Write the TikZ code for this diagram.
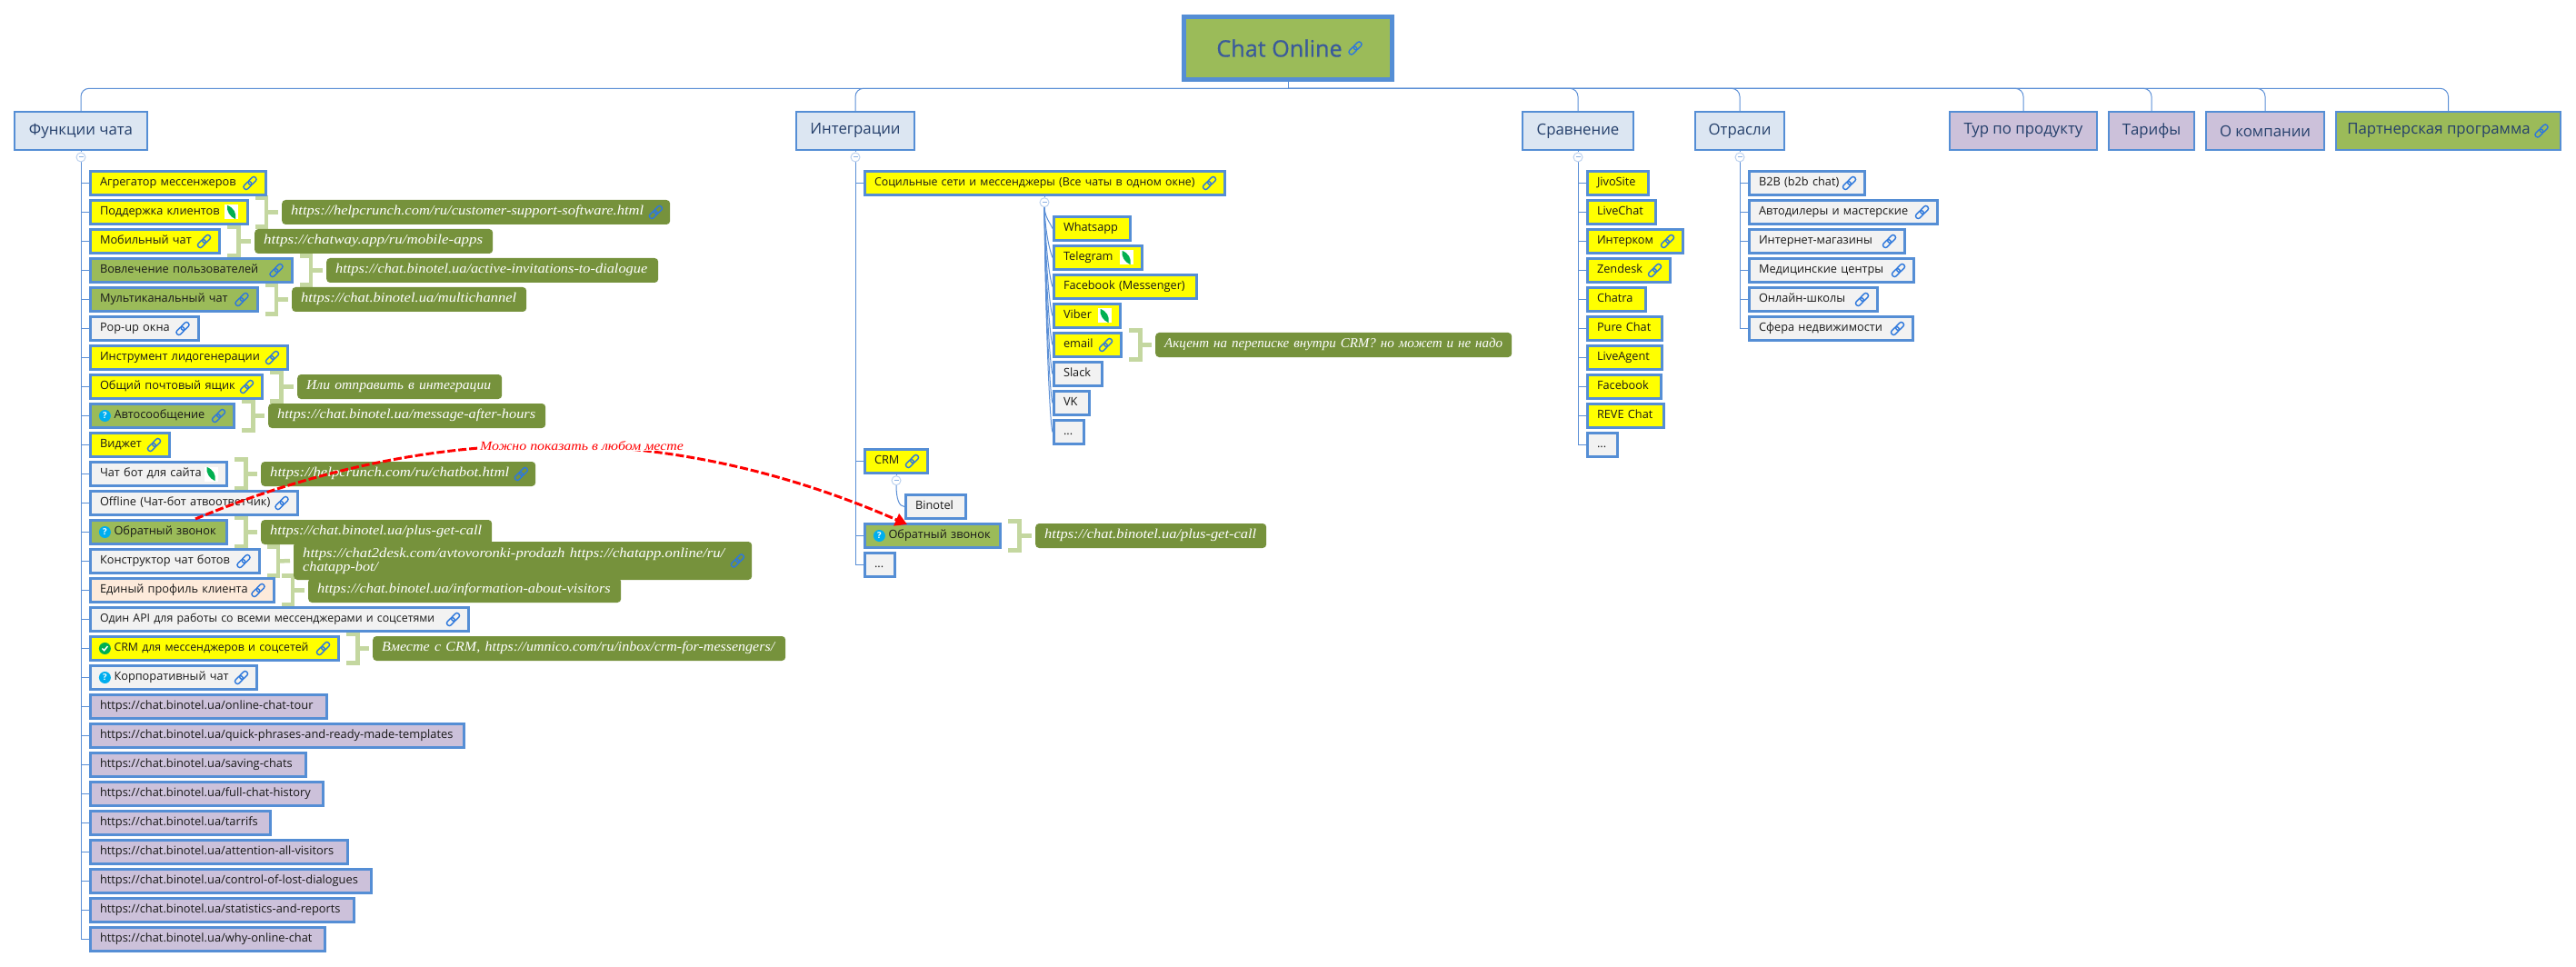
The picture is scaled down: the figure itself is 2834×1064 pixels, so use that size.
\documentclass[tikz,border=0pt]{standalone}
\usepackage{graphicx}
\usepackage{fontspec}
\setmainfont{Open Sans}
\newfontfamily\notefam{Liberation Serif}
\newfontfamily\rootfam[FakeBold=0.5]{Open Sans}
\usetikzlibrary{arrows.meta}
\pgfdeclarelayer{under}
\pgfsetlayers{under,main}
\definecolor{edge}{HTML}{558ED5}
\definecolor{conncol}{HTML}{5B8FD6}
\definecolor{yel}{HTML}{FFFF00}
\definecolor{grn}{HTML}{9BBB59}
\definecolor{olive}{HTML}{76923C}
\definecolor{headb}{HTML}{DCE6F2}
\definecolor{purp}{HTML}{CCC1DA}
\definecolor{grey}{HTML}{F2F2F2}
\definecolor{peach}{HTML}{FDEADA}
\definecolor{brkcol}{HTML}{C4D7A0}
\definecolor{headtxt}{HTML}{243F6B}
\definecolor{roottxt}{HTML}{3A5A9B}
\definecolor{linkc}{HTML}{2E78DC}
\definecolor{askc}{HTML}{00AEEF}
\definecolor{okc}{HTML}{00B050}
\newcommand{\urlsz}{\fontsize{12.85}{15}\selectfont}
\newcommand{\longsz}{\fontsize{12.35}{15}\selectfont}
\tikzset{
  itembox/.style={draw=edge,line width=2.6pt,rectangle,minimum height=26.4pt,inner ysep=0pt,text=black!90,align=left,font=\fontsize{12.75}{15}\selectfont},
  notebox/.style={fill=olive,rectangle,rounded corners=4pt,minimum height=27pt,inner ysep=0pt,text=white,align=left,font=\notefam\itshape\fontsize{15}{15}\selectfont},
  headbox/.style={draw=edge,line width=2pt,rectangle,minimum height=42pt,inner sep=0pt,text=headtxt,font=\fontsize{16.8}{19}\selectfont},
  rootbox/.style={draw=edge,line width=5pt,rectangle,fill=grn,minimum width=229pt,minimum height=69pt,inner sep=0pt,text=roottxt,font=\rootfam\fontsize{25.2}{28}\selectfont},
  conn/.style={draw=conncol,line width=1pt},
  brk/.style={draw=brkcol,line width=4.5pt,miter limit=10},
  fold/.style={circle,draw=conncol!40,fill=white,line width=1pt,minimum size=10pt,inner sep=0pt,
    path picture={\draw[conncol!70,line width=1pt] ([xshift=-2.5pt]path picture bounding box.center) -- ([xshift=2.5pt]path picture bounding box.center);}},
  qmark/.style={circle,fill=askc,minimum size=13pt,inner sep=0pt,text=white,font=\bfseries\fontsize{9.5}{10}\selectfont},
  okmark/.style={circle,fill=okc,minimum size=13pt,inner sep=0pt,
    path picture={\draw[white,line width=1.5pt] ([shift={(-3pt,0pt)}]path picture bounding box.center) -- ([shift={(-0.8pt,-2.2pt)}]path picture bounding box.center) -- ([shift={(3pt,2.4pt)}]path picture bounding box.center);}},
  linkic/.pic={
    \begin{scope}[rotate=45]
      \draw[linkc,line width=1.4pt,rounded corners=2.3pt] (-8.6,-2.7) rectangle (1.4,2.7);
      \draw[linkc,line width=1.4pt,rounded corners=2.3pt] (-1.4,-2.7) rectangle (8.6,2.7);
    \end{scope}
  },
  leafic/.pic={
    \fill[white] (-7.5,-8) rectangle (7.5,8);
    \fill[okc] (-4.5,-7.6) .. controls (2.5,-5) and (6,1) .. (4.5,7.6) .. controls (-1.5,5) and (-5.5,-1) .. (-4.5,-7.6) -- cycle;
  },
}
\newcommand{\itm}[7]{%
  \pgfmathsetmacro\boxw{#3-#2-2.6}%
  \pgfmathsetmacro\boxin{#6-1.3}%
  \pgfmathsetmacro\boxt{\boxw-2*\boxin}%
  \node[itembox,fill=#5,anchor=west,minimum width=\boxw pt,inner xsep=\boxin pt,text width=\boxt pt] (#1) at (#2,#4) {\mbox{\strut #7}};}
\newcommand{\notebx}[6]{%
  \pgfmathsetmacro\boxw{#3-#2}%
  \pgfmathsetmacro\boxt{\boxw-20}%
  \node[notebox,anchor=west,minimum width=\boxw pt,inner xsep=10pt,text width=\boxt pt] (#1) at (#2,#4) {\mbox{\strut\resizebox{#5pt}{\height}{#6}}};}
\newcommand{\hd}[5]{%
  \pgfmathsetmacro\boxw{#3-#2-2}%
  \pgfmathsetmacro\boxc{(#2+#3)/2}%
  \node[headbox,fill=#4,minimum width=\boxw pt] (#1) at (\boxc,144) {#5};}
\newcommand{\lkic}[1]{\pic at ([xshift=-18.5pt]#1.east) {linkic};}
\newcommand{\lfic}[1]{\pic at ([xshift=-19pt]#1.east) {leafic};}
\newcommand{\ntlk}[1]{\pic at ([xshift=-16pt]#1.east) {linkic};}
\newcommand{\brkt}[2]{%
  \draw[brk] ([shift={(7pt,16pt)}]#1.east) -- ([shift={(19.5pt,16pt)}]#1.east) -- ([shift={(19.5pt,-16pt)}]#1.east) -- ([shift={(7pt,-16pt)}]#1.east);
  \draw[brk] ([xshift=19.5pt]#1.east) -- ([xshift=-4pt]#2.west);}
\begin{document}
\begin{tikzpicture}[x=1pt,y=-1pt]
\useasboundingbox (0,0) rectangle (2834,1064);
% root and top level
\node[rootbox] (root) at (1417,53) {\mbox{Chat Online\hspace{19pt}}};
\pic at ([xshift=-43pt]root.east) {linkic};
\coordinate (bus) at (1417,97.3);
\hd{hf}{15}{163}{headb}{Функции чата}
\hd{hi}{875}{1007}{headb}{Интеграции}
\hd{hc}{1674}{1798}{headb}{Сравнение}
\hd{ho}{1864}{1964}{headb}{Отрасли}
\hd{ht}{2144}{2308}{purp}{Тур по продукту}
\hd{hp}{2319}{2415}{purp}{Тарифы}
\hd{ha}{2426}{2558}{purp}{О компании}
\hd{hr}{2569}{2818}{grn}{\mbox{Партнерская программа\hspace{21pt}}}
\pic at ([xshift=-22pt]hr.east) {linkic};
% fold markers
\node[fold] (cf) at (89,173) {};
\node[fold] (ci) at (941,173) {};
\node[fold] (cc) at (1736,173) {};
\node[fold] (co) at (1914,173) {};
\node[fold] (cs) at (1149,222.7) {};
\node[fold] (cr) at (986,528.7) {};
% first list
\itm{f0}{98}{293.5}{201.5}{yel}{12}{Агрегатор мессенжеров}
\itm{f1}{98}{273.5}{233.5}{yel}{12}{Поддержка клиентов}
\itm{f2}{98}{243}{265.5}{yel}{12}{Мобильный чат}
\itm{f3}{98}{322.5}{297.5}{grn}{12}{Вовлечение пользователей}
\itm{f4}{98}{284.5}{329.5}{grn}{12}{Мультиканальный чат}
\itm{f5}{98}{219.5}{361.5}{grey}{12}{Pop-up окна}
\itm{f6}{98}{318}{393.5}{yel}{12}{Инструмент лидогенерации}
\itm{f7}{98}{290}{425.5}{yel}{12}{Общий почтовый ящик}
\itm{f8}{98}{259}{457.5}{grn}{27.5}{Автосообщение}
\itm{f9}{98}{188}{489.5}{yel}{12}{Виджет}
\itm{f10}{98}{251}{521.5}{grey}{12}{Чат бот для сайта}
\itm{f11}{98}{328.5}{553.5}{grey}{12}{Offline (Чат-бот атвоответчик)}
\itm{f12}{98}{251}{585.5}{grn}{27.5}{Обратный звонок}
\itm{f13}{98}{286.5}{617.5}{grey}{12}{Конструктор чат ботов}
\itm{f14}{98}{302.5}{649.5}{peach}{12}{Единый профиль клиента}
\itm{f15}{98}{517}{681.5}{grey}{12}{\longsz Один API для работы со всеми мессенджерами и соцсетями}
\itm{f16}{98}{374}{713.5}{yel}{27.5}{\longsz CRM для мессенджеров и соцсетей}
\itm{f17}{98}{284}{745.5}{grey}{27.5}{Корпоративный чат}
\itm{f18}{98}{361}{777.5}{purp}{12}{\urlsz https://chat.binotel.ua/online-chat-tour}
\itm{f19}{98}{512}{809.5}{purp}{12}{\urlsz https://chat.binotel.ua/quick-phrases-and-ready-made-templates}
\itm{f20}{98}{338}{841.5}{purp}{12}{\urlsz https://chat.binotel.ua/saving-chats}
\itm{f21}{98}{357}{873.5}{purp}{12}{\urlsz https://chat.binotel.ua/full-chat-history}
\itm{f22}{98}{299}{905.5}{purp}{12}{\urlsz https://chat.binotel.ua/tarrifs}
\itm{f23}{98}{384}{937.5}{purp}{12}{\urlsz https://chat.binotel.ua/attention-all-visitors}
\itm{f24}{98}{410}{969.5}{purp}{12}{\urlsz https://chat.binotel.ua/control-of-lost-dialogues}
\itm{f25}{98}{391}{1001.5}{purp}{12}{\urlsz https://chat.binotel.ua/statistics-and-reports}
\itm{f26}{98}{359}{1033.5}{purp}{12}{\urlsz https://chat.binotel.ua/why-online-chat}
\node[qmark] (q8) at (115.4,457.5) {?};
\node[qmark] (q12) at (115.4,585.5) {?};
\node[okmark] (q16) at (115.4,713.5) {};
\node[qmark] (q17) at (115.4,745.5) {?};
\foreach \n in {f0,f2,f3,f4,f5,f6,f7,f8,f9,f11,f13,f14,f15,f16,f17} {\lkic{\n}}
\foreach \n in {f1,f10} {\lfic{\n}}
% notes of the first list
\notebx{n1}{310}{737}{233.5}{388}{https://helpcrunch.com/ru/customer-support-software.html}
\notebx{n2}{280}{542}{265.5}{241}{https://chatway.app/ru/mobile-apps}
\notebx{n3}{359}{724}{297.5}{343}{https://chat.binotel.ua/active-invitations-to-dialogue}
\notebx{n4}{321}{579}{329.5}{237}{https://chat.binotel.ua/multichannel}
\notebx{n7}{327}{552}{425.5}{203}{Или отправить в интеграции}
\notebx{n8}{295}{600}{457.5}{284}{https://chat.binotel.ua/message-after-hours}
\notebx{n10}{287}{589}{521.5}{263}{https://helpcrunch.com/ru/chatbot.html}
\notebx{n12}{287}{541}{585.5}{233}{https://chat.binotel.ua/plus-get-call}
\node[notebox,anchor=west,minimum width=504pt,minimum height=42pt,inner xsep=10pt,text width=484pt] (n13) at (323,617) {\mbox{\resizebox{464pt}{\height}{https://chat2desk.com/avtovoronki-prodazh https://chatapp.online/ru/}}\\[0pt]\mbox{\resizebox{83pt}{\height}{chatapp-bot/}}};
\notebx{n14}{339}{683}{649.5}{322.6}{https://chat.binotel.ua/information-about-visitors}
\notebx{n16}{410}{864}{713.5}{432}{Вместе с CRM, https://umnico.com/ru/inbox/crm-for-messengers/}
\ntlk{n1}
\ntlk{n10}
\ntlk{n13}
% integrations
\itm{i0}{950}{1349}{201.5}{yel}{12}{\longsz Социльные сети и мессенджеры (Все чаты в одном окне)}
\lkic{i0}
\itm{s0}{1158}{1245}{251.5}{yel}{12}{Whatsapp}
\itm{s1}{1158}{1258}{283.5}{yel}{12}{Telegram}
\itm{s2}{1158}{1318}{315.5}{yel}{12}{Facebook (Messenger)}
\itm{s3}{1158}{1234}{347.5}{yel}{12}{Viber}
\itm{s4}{1158}{1235}{379.5}{yel}{12}{email}
\itm{s5}{1158}{1214}{411.5}{grey}{12}{Slack}
\itm{s6}{1158}{1200}{443.5}{grey}{12}{VK}
\itm{s7}{1158}{1194}{475.5}{grey}{12}{...}
\lfic{s1}
\lfic{s3}
\lkic{s4}
\notebx{ns4}{1271}{1663}{379.5}{372}{Акцент на переписке внутри CRM? но может и не надо}
\itm{i1}{950}{1022}{507.5}{yel}{12}{CRM}
\lkic{i1}
\itm{b0}{995}{1064}{557.5}{grey}{12}{Binotel}
\itm{i2}{950}{1102}{589.5}{grn}{27.5}{Обратный звонок}
\node[qmark] (qi2) at (967.4,589.5) {?};
\itm{i3}{950}{986}{621.5}{grey}{12}{...}
\notebx{ni2}{1139}{1393}{589.5}{233}{https://chat.binotel.ua/plus-get-call}
% comparison
\itm{c0}{1745}{1815}{201.5}{yel}{12}{JivoSite}
\itm{c1}{1745}{1823}{233.5}{yel}{12}{LiveChat}
\itm{c2}{1745}{1853}{265.5}{yel}{12}{Интерком}
\itm{c3}{1745}{1839}{297.5}{yel}{12}{Zendesk}
\itm{c4}{1745}{1812}{329.5}{yel}{12}{Chatra}
\itm{c5}{1745}{1830}{361.5}{yel}{12}{Pure Chat}
\itm{c6}{1745}{1830}{393.5}{yel}{12}{LiveAgent}
\itm{c7}{1745}{1829}{425.5}{yel}{12}{Facebook}
\itm{c8}{1745}{1832}{457.5}{yel}{12}{REVE Chat}
\itm{c9}{1745}{1781}{489.5}{grey}{12}{...}
\lkic{c2}
\lkic{c3}
% industries
\itm{o0}{1923}{2053}{201.5}{grey}{12}{B2B (b2b chat)}
\itm{o1}{1923}{2133}{233.5}{grey}{12}{Автодилеры и мастерские}
\itm{o2}{1923}{2097}{265.5}{grey}{12}{Интернет-магазины}
\itm{o3}{1923}{2107}{297.5}{grey}{12}{Медицинские центры}
\itm{o4}{1923}{2067}{329.5}{grey}{12}{Онлайн-школы}
\itm{o5}{1923}{2106}{361.5}{grey}{12}{Сфера недвижимости}
\foreach \n in {o0,o1,o2,o3,o4,o5} {\lkic{\n}}
% connectors and brackets under the boxes
\begin{pgfonlayer}{under}
\draw[conn] (root.south) -- (bus);
\foreach \n in {hf,hi,hc,ho,ht,hp,ha,hr} {\draw[conn,rounded corners=9pt] (bus) -| (\n.north);}
\draw[conn] (hf.south) -- (cf.north);
\draw[conn] (hi.south) -- (ci.north);
\draw[conn] (hc.south) -- (cc.north);
\draw[conn] (ho.south) -- (co.north);
\foreach \n in {0,...,26} {\draw[conn] (cf.south) |- (f\n.west);}
\foreach \n in {i0,i1,i2,i3} {\draw[conn] (ci.south) |- (\n.west);}
\foreach \n in {0,...,9} {\draw[conn] (cc.south) |- (c\n.west);}
\foreach \n in {0,...,5} {\draw[conn] (co.south) |- (o\n.west);}
\draw[conn] (i0.south -| cs) -- (cs.north);
\foreach \n/\d in {0/12,1/28,2/44,3/60,4/76,5/92,6/108,7/124} {\draw[conn] (cs.south) .. controls +(1,\d) and +(-3,-7) .. (s\n.west);}
\draw[conn] (i1.south -| cr) -- (cr.north);
\draw[conn] (cr.south) .. controls +(0,14) and +(-6,0) .. (b0.west);
\brkt{f1}{n1}
\brkt{f2}{n2}
\brkt{f3}{n3}
\brkt{f4}{n4}
\brkt{f7}{n7}
\brkt{f8}{n8}
\brkt{f10}{n10}
\brkt{f12}{n12}
\brkt{f13}{n13}
\brkt{f14}{n14}
\brkt{f16}{n16}
\brkt{s4}{ns4}
\brkt{i2}{ni2}
\end{pgfonlayer}
% cross link
\draw[red,line width=3pt,dash pattern=on 9pt off 3pt,-{Triangle[length=13pt,width=14pt]}] ([xshift=-36pt]f12.north east) .. controls (478,462) and (737,463) .. ([shift={(48pt,-2pt)}]i2.north west);
\node[fill=white,inner sep=0pt,text=red,font=\notefam\itshape\fontsize{14}{15}\selectfont] (xl) at (640,490.7) {\resizebox{224pt}{\height}{Можно показать в любом месте}};
\end{tikzpicture}
\end{document}
